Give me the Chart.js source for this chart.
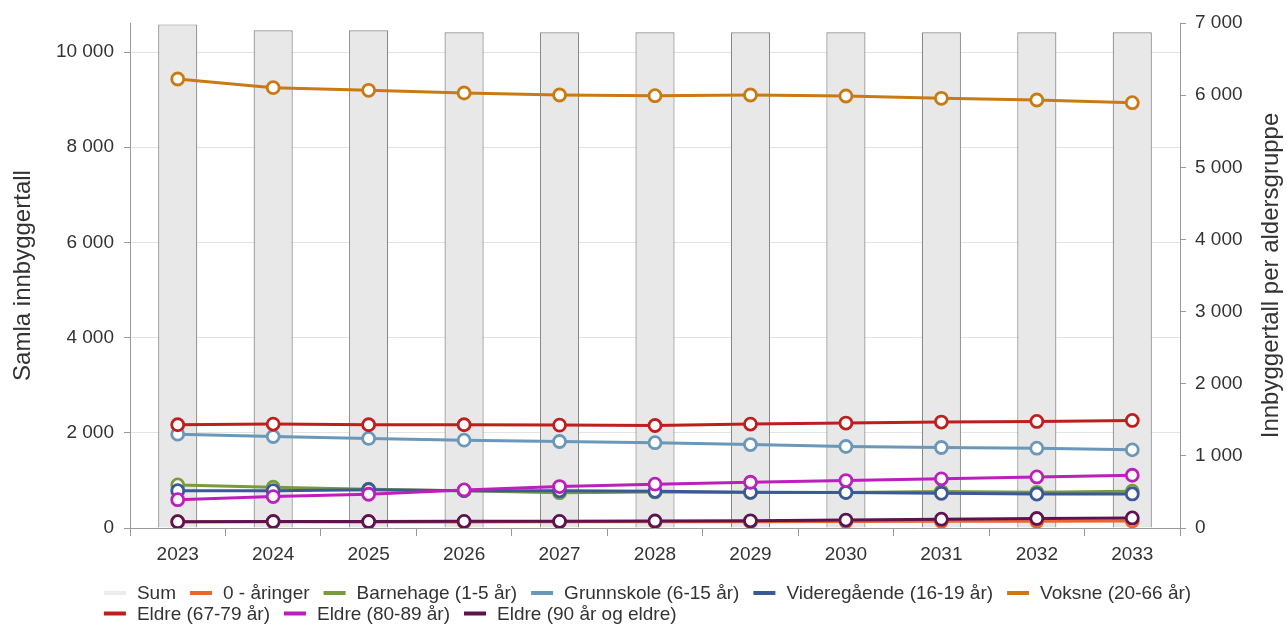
<!DOCTYPE html>
<html>
<head>
<meta charset="utf-8">
<script src="https://cdn.jsdelivr.net/npm/chart.js@4.4.1/dist/chart.umd.min.js"></script>
<style>
html,body{margin:0;padding:0;background:#fff;}
#wrap{width:1287px;height:624px;position:relative;}
</style>
</head>
<body>
<div id="wrap"><canvas id="c" width="1287" height="624"></canvas></div>
<script>
// ---- data ----
const years = ['2023','2024','2025','2026','2027','2028','2029','2030','2031','2032','2033'];
const sumValues      = [10581, 10457, 10457, 10414, 10414, 10414, 10414, 10414, 10414, 10414, 10414];
const nullaringer    = [88, 86, 84, 84, 85, 86, 88, 90, 92, 95, 98];
const barnehage      = [597, 565, 537, 518, 490, 500, 492, 492, 505, 495, 510];
const grunnskole     = [1301, 1268, 1241, 1218, 1199, 1183, 1157, 1130, 1116, 1106, 1083];
const videregaende   = [518, 518, 530, 518, 515, 508, 495, 492, 481, 470, 472];
const voksne         = [6224, 6104, 6067, 6030, 6002, 5993, 6002, 5988, 5956, 5933, 5896];
const eldre6779      = [1431, 1440, 1431, 1431, 1426, 1421, 1440, 1454, 1468, 1477, 1491];
const eldre8089      = [393, 435, 468, 528, 574, 607, 634, 657, 681, 708, 731];
const eldre90        = [88, 90, 90, 92, 92, 97, 100, 110, 122, 132, 139];

const leftTicks  = [0, 2000, 4000, 6000, 8000, 10000];
const leftMax    = 10610;
const rightTicks = [0, 1000, 2000, 3000, 4000, 5000, 6000, 7000];
const rightMax   = 7000;

const leftTitle = 'Samla innbyggertall';
const rightTitle = 'Innbyggertall per aldersgruppe';

const seriesLabels = ['0 - åringer','Barnehage (1-5 år)','Grunnskole (6-15 år)','Videregående (16-19 år)','Voksne (20-66 år)','Eldre (67-79 år)','Eldre (80-89 år)','Eldre (90 år og eldre)'];
const seriesData = [nullaringer, barnehage, grunnskole, videregaende, voksne, eldre6779, eldre8089, eldre90];
const seriesColors = ['#ef6331','#789b3c','#6b97b9','#3b5998','#c97a12','#bf1e1e','#bc1fbc','#5d1350'];

// ---- styling ----
const FONT = '"Liberation Sans", Arial, Helvetica, sans-serif';
const TXT = '#333333';
const AXIS = '#999999';

function fmt(v){ return String(v).replace(/\B(?=(\d{3})+(?!\d))/g, ' '); }

const datasets = [{
  type: 'bar',
  label: 'Sum',
  data: sumValues,
  yAxisID: 'y',
  backgroundColor: '#e8e8e8',
  borderColor: '#888888',
  borderWidth: 1.2,
  barPercentage: 0.41,
  categoryPercentage: 1,
  order: 100,
  legendColor: '#ebebeb'
}];
seriesLabels.forEach((lab, i) => {
  datasets.push({
    type: 'line',
    label: lab,
    data: seriesData[i],
    yAxisID: 'y2',
    borderColor: seriesColors[i],
    backgroundColor: seriesColors[i],
    borderWidth: 3,
    tension: 0,
    pointRadius: 6,
    pointHoverRadius: 6,
    pointBorderWidth: 2.8,
    pointBackgroundColor: '#ffffff',
    pointBorderColor: seriesColors[i],
    order: 20 - i,
    legendColor: seriesColors[i]
  });
});

const hcExtras = {
  id: 'hcExtras',
  afterDraw(chart) {
    const ctx = chart.ctx;
    const ca = chart.chartArea;
    // right axis title (reads bottom-to-top)
    ctx.save();
    ctx.font = '24px ' + FONT;
    ctx.fillStyle = TXT;
    ctx.textAlign = 'center';
    ctx.textBaseline = 'middle';
    ctx.translate(1271, (ca.top + ca.bottom) / 2);
    ctx.rotate(-Math.PI / 2);
    ctx.fillText(rightTitle, 0, 0);
    ctx.restore();

    // legend (Highcharts-like: centered box, rows left-aligned)
    ctx.save();
    ctx.font = '19px ' + FONT;
    ctx.textBaseline = 'middle';
    ctx.textAlign = 'left';
    const sym = 22, symGap = 11, gap = 14;
    const items = chart.data.datasets.map(ds => ({label: ds.label, color: ds.legendColor}));
    items.forEach(it => it.w = sym + symGap + ctx.measureText(it.label).width);
    const maxRow = chart.width - 60;
    const rows = [[]], rowW = [0];
    items.forEach(it => {
      const r = rows.length - 1;
      const add = (rows[r].length ? gap : 0) + it.w;
      if (rows[r].length && rowW[r] + add > maxRow) { rows.push([it]); rowW.push(it.w); }
      else { rows[r].push(it); rowW[r] += add; }
    });
    const boxW = Math.max(...rowW);
    const x0 = (chart.width - boxW) / 2 + 4;
    rows.forEach((row, ri) => {
      let x = x0;
      const y = 593 + ri * 20.5;
      row.forEach(it => {
        ctx.fillStyle = it.color;
        ctx.fillRect(x, y - 2, sym, 4);
        ctx.fillStyle = TXT;
        ctx.fillText(it.label, x + sym + symGap, y + 1);
        x += it.w + gap;
      });
    });
    ctx.restore();
  }
};

new Chart(document.getElementById('c'), {
  data: { labels: years, datasets },
  options: {
    responsive: false,
    animation: false,
    layout: { padding: { top: 23, bottom: 51, left: 0, right: 0 } },
    plugins: {
      legend: { display: false },
      tooltip: { enabled: false }
    },
    scales: {
      x: {
        type: 'category',
        offset: true,
        grid: { offset: true, drawOnChartArea: false, drawTicks: true, tickLength: 8, tickColor: AXIS, color: AXIS },
        border: { display: true, color: AXIS, width: 1 },
        ticks: { color: TXT, font: { size: 19, family: FONT }, padding: 7, maxRotation: 0 },
        afterFit: s => { s.height = 45; }
      },
      y: {
        position: 'left',
        min: 0,
        max: leftMax,
        afterBuildTicks: s => { s.ticks = leftTicks.map(v => ({ value: v })); },
        ticks: {
          autoSkip: false,
          color: TXT,
          font: { size: 19, family: FONT },
          padding: 10,
          callback: v => fmt(v)
        },
        grid: {
          color: c => (c.tick && c.tick.value > 0) ? '#e3e3e3' : 'rgba(0,0,0,0)',
          tickColor: AXIS,
          tickLength: 6,
          lineWidth: 1
        },
        border: { display: true, color: AXIS, width: 1 },
        title: { display: true, text: leftTitle, color: TXT, font: { size: 24, family: FONT, weight: 'normal' }, padding: { top: 9, bottom: 0 } },
        afterFit: s => { s.width = 130; }
      },
      y2: {
        position: 'right',
        min: 0,
        max: rightMax,
        afterBuildTicks: s => { s.ticks = rightTicks.map(v => ({ value: v })); },
        ticks: {
          autoSkip: false,
          color: TXT,
          font: { size: 19, family: FONT },
          padding: 9,
          callback: v => fmt(v)
        },
        grid: { drawOnChartArea: false, tickColor: AXIS, tickLength: 6 },
        border: { display: true, color: AXIS, width: 1 },
        afterFit: s => { s.width = 107; }
      }
    }
  },
  plugins: [hcExtras]
});
</script>
</body>
</html>
